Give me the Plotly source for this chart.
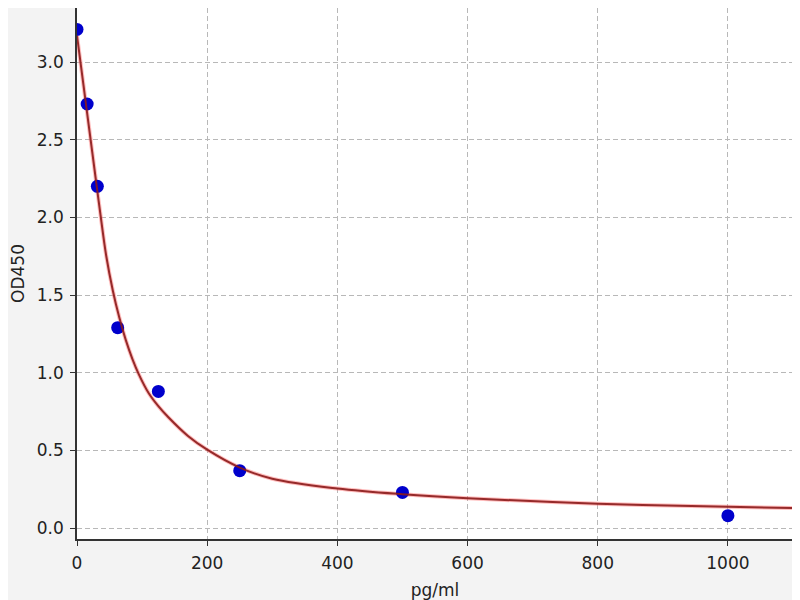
import plotly.graph_objects as go

# standard points
conc = [0, 15.6, 31.25, 62.5, 125, 250, 500, 1000]
od = [3.21, 2.73, 2.20, 1.29, 0.88, 0.37, 0.23, 0.08]

# fitted curve
fit_x = [0, 10, 20, 30, 36, 45, 55, 65, 75, 85, 95, 110, 125, 140, 170, 200, 250, 300, 400, 500, 600, 800, 1000, 1100]
fit_y = [3.17, 2.85, 2.53, 2.21, 2.02, 1.75, 1.53, 1.355, 1.21, 1.09, 0.99, 0.87, 0.785, 0.715, 0.595, 0.505,
         0.39, 0.318, 0.255, 0.218, 0.192, 0.157, 0.137, 0.13]

fig = go.Figure()

fig.add_trace(go.Scatter(
    x=fit_x, y=fit_y, mode='lines',
    line=dict(color='#ff7070', width=4, shape='spline'),
    opacity=0.45, showlegend=False
))
fig.add_trace(go.Scatter(
    x=conc, y=od, mode='markers',
    marker=dict(size=13, color='#0000cc', line=dict(width=0)),
    showlegend=False
))
fig.add_trace(go.Scatter(
    x=fit_x, y=fit_y, mode='lines',
    line=dict(color='#8b1a1a', width=2, shape='spline'),
    opacity=0.9, showlegend=False
))

axis_common = dict(
    showline=True, linecolor='#333333', linewidth=1.6, mirror=True,
    ticks='outside', ticklen=5, tickcolor='#333333', ticklabelstandoff=3,
    showgrid=True, gridcolor='#b8b8b8', griddash='5px,3px', gridwidth=1,
    zeroline=False, automargin=False,
    tickfont=dict(family='DejaVu Sans', size=17, color='#222222'),
    title_font=dict(family='DejaVu Sans', size=17, color='#222222'),
)

fig.update_xaxes(axis_common, range=[0, 1100], tickvals=[0, 200, 400, 600, 800, 1000],
                 title_text='pg/ml', title_standoff=14)
fig.update_yaxes(axis_common, range=[-0.07, 3.348], tickvals=[0, 0.5, 1.0, 1.5, 2.0, 2.5, 3.0],
                 tickformat='.1f', title_text='OD450', title_standoff=20)

# page puts the figure 8px in from the top-left corner
fig.update_layout(
    width=792, height=592,
    margin=dict(l=69, r=7, t=0, b=61),
    paper_bgcolor='#f3f3f3', plot_bgcolor='white',
    font=dict(family='DejaVu Sans'),
)

fig.write_html("out.html")
